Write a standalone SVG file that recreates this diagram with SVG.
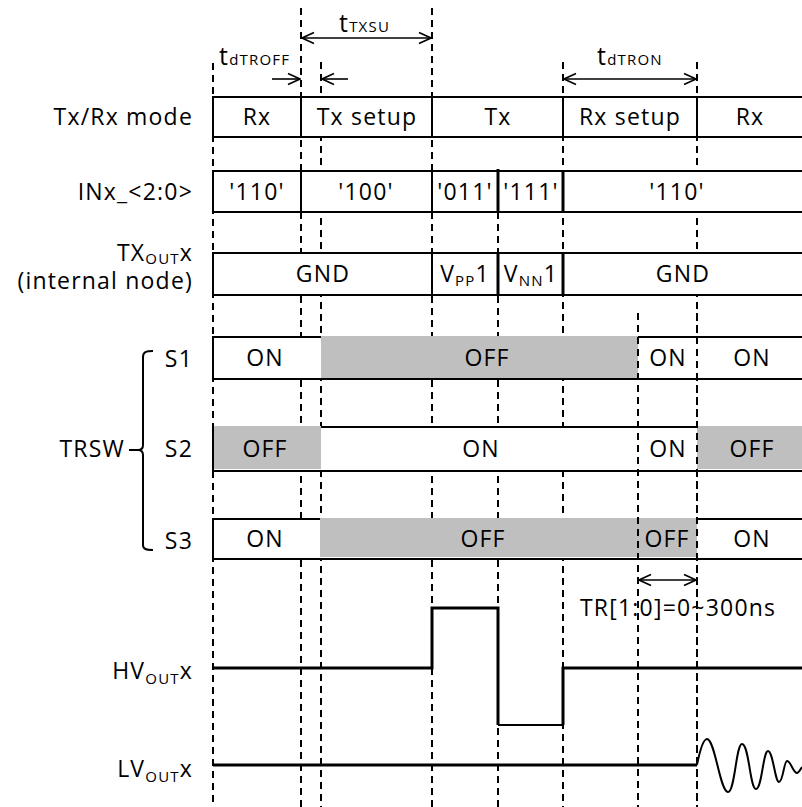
<svg xmlns="http://www.w3.org/2000/svg" width="802" height="807" viewBox="0 0 802 807">
<defs>
<style>
text{font-family:"Open Sans","Liberation Sans",sans-serif;font-size:23px;fill:#000;letter-spacing:1.2px}
.m{text-anchor:middle}
.e{text-anchor:end}
.sub{font-size:15px}
.dash{stroke:#000;stroke-width:2;stroke-dasharray:7,5;fill:none}
.box{fill:#fff;stroke:#000;stroke-width:2}
.ln{stroke:#000;stroke-width:2;fill:none}
.tk{stroke:#000;stroke-width:3;fill:none}
.gray{fill:#bfbfbf}
.arr{stroke:#000;stroke-width:1.6;fill:none;marker-end:url(#ah);marker-start:url(#ah)}
.arr1{stroke:#000;stroke-width:1.6;fill:none;marker-end:url(#ah)}
</style>
<marker id="ah" viewBox="0 0 14 14" refX="13" refY="7" markerWidth="14" markerHeight="14" markerUnits="userSpaceOnUse" orient="auto-start-reverse">
<path d="M1,1.5 L13,7 L1,12.5" fill="none" stroke="#000" stroke-width="1.6"/>
</marker>
</defs>
<rect width="802" height="807" fill="#fff"/>

<g id="connectors">
<line class="dash" x1="213" y1="63" x2="213" y2="807"/>
<line class="dash" x1="301" y1="8" x2="301" y2="807"/>
<line class="dash" x1="321" y1="62" x2="321" y2="807"/>
<line class="dash" x1="432" y1="8" x2="432" y2="807"/>
<line class="dash" x1="498" y1="212" x2="498" y2="807"/>
<line class="dash" x1="563" y1="62" x2="563" y2="807"/>
<line class="dash" x1="697" y1="62" x2="697" y2="807"/>
<line class="arr" x1="302" y1="38" x2="431" y2="38"/>
<line class="arr1" x1="272" y1="79" x2="300" y2="79"/>
<line class="arr1" x1="348" y1="79" x2="322" y2="79"/>
<line class="arr" x1="564" y1="79" x2="696" y2="79"/>
</g>

<g id="timing-labels">
<text x="339" y="32" style="font-size:25px">t<tspan style="font-size:15px">TXSU</tspan></text>
<text x="219" y="65" style="font-size:25px">t<tspan style="font-size:15px">dTROFF</tspan></text>
<text x="597" y="65" style="font-size:25px">t<tspan style="font-size:15px">dTRON</tspan></text>
</g>

<g id="row-mode">
<text class="e" x="193" y="125">Tx/Rx mode</text>
<rect class="box" x="213" y="97" width="600" height="40"/>
<line class="ln" x1="301" y1="97" x2="301" y2="137"/>
<line class="ln" x1="432" y1="97" x2="432" y2="137"/>
<line class="ln" x1="563" y1="97" x2="563" y2="137"/>
<line class="ln" x1="697" y1="97" x2="697" y2="137"/>
<text class="m" x="257" y="125">Rx</text>
<text class="m" x="367" y="125">Tx setup</text>
<text class="m" x="498" y="125">Tx</text>
<text class="m" x="630" y="125">Rx setup</text>
<text class="m" x="750" y="125">Rx</text>
</g>

<g id="row-inx">
<text class="e" x="193" y="200">INx_&lt;2:0&gt;</text>
<rect class="box" x="213" y="171" width="600" height="41"/>
<line class="ln" x1="301" y1="171" x2="301" y2="212"/>
<line class="ln" x1="432" y1="171" x2="432" y2="212"/>
<line class="tk" x1="498" y1="169" x2="498" y2="213"/>
<line class="tk" x1="563" y1="171" x2="563" y2="212"/>
<text class="m" x="257" y="200">'110'</text>
<text class="m" x="366" y="200">'100'</text>
<text class="m" x="465" y="200">'011'</text>
<text class="m" x="531" y="200">'111'</text>
<text class="m" x="677" y="200">'110'</text>
</g>

<g id="row-txout">
<text class="e" x="193" y="261">TX<tspan class="sub" dy="3">OUT</tspan><tspan dy="-3">x</tspan></text>
<text class="e" x="193" y="289">(internal node)</text>
<rect class="box" x="213" y="253" width="600" height="42"/>
<line class="ln" x1="432" y1="253" x2="432" y2="295"/>
<line class="tk" x1="498" y1="253" x2="498" y2="295"/>
<line class="tk" x1="563" y1="253" x2="563" y2="295"/>
<text class="m" x="323" y="282">GND</text>
<text class="m" x="465" y="282">V<tspan class="sub" dy="4">PP</tspan><tspan dy="-4">1</tspan></text>
<text class="m" x="531" y="282">V<tspan class="sub" dy="4">NN</tspan><tspan dy="-4">1</tspan></text>
<text class="m" x="683" y="282">GND</text>
</g>

<g id="trsw">
<text class="e" x="125" y="457">TRSW</text>
<line class="ln" x1="129" y1="450" x2="139" y2="450"/>
<path class="ln" d="M153,351 C146,351 143,352 143,357 V445 C143,448 141,450 138,450 C141,450 143,452 143,455 V545 C143,549 146,550 153,550"/>
</g>

<g id="row-s1">
<text class="e" x="193" y="367">S1</text>
<rect class="box" x="213" y="337" width="600" height="42"/>
<rect class="gray" x="321" y="336" width="317" height="42"/>
<text class="m" x="265" y="366">ON</text>
<text class="m" x="487" y="366">OFF</text>
<text class="m" x="668" y="366">ON</text>
<text class="m" x="752" y="366">ON</text>
</g>

<g id="row-s2">
<text class="e" x="193" y="457">S2</text>
<rect class="box" x="213" y="427" width="600" height="44"/>
<rect class="gray" x="214" y="426" width="107" height="43"/>
<rect class="gray" x="697" y="426" width="110" height="43"/>
<text class="m" x="265" y="457">OFF</text>
<text class="m" x="481" y="457">ON</text>
<text class="m" x="668" y="457">ON</text>
<text class="m" x="752" y="457">OFF</text>
</g>

<g id="row-s3">
<text class="e" x="193" y="549">S3</text>
<rect class="box" x="213" y="519" width="600" height="40"/>
<rect class="gray" x="320" y="518" width="377" height="39"/>
<text class="m" x="265" y="547">ON</text>
<text class="m" x="483" y="547">OFF</text>
<text class="m" x="667" y="547">OFF</text>
<text class="m" x="752" y="547">ON</text>
</g>

<g id="tr-overlay">
<line class="dash" x1="638" y1="313" x2="638" y2="807"/>
<line class="dash" x1="697" y1="313" x2="697" y2="807"/>
<line class="arr" x1="639" y1="580" x2="696" y2="580"/>
<text x="580" y="616">TR[1:0]=0~300ns</text>
</g>

<g id="hvout">
<text class="e" x="193" y="679">HV<tspan class="sub" dy="5">OUT</tspan><tspan dy="-5">x</tspan></text>
<path class="tk" d="M213,668 H432 V608 H498 V725"/>
<path class="ln" d="M498,725 H563"/>
<path class="tk" d="M563,725 V668 H802"/>
</g>

<g id="lvout">
<text class="e" x="193" y="777">LV<tspan class="sub" dy="5">OUT</tspan><tspan dy="-5">x</tspan></text>
<path class="tk" d="M213,765 H697"/>
<path class="ln" d="M697,765 C700,750 703,739 707,739 C715,739 720,792 728,792 C735,792 736,744 742,744 C749,744 750,789 756,789 C762,789 763,751 768,751 C773,751 775,782 779,782 C783,782 784,761 787,761 C791,761 793,773 797,773 C799,773 800,770 802,767"/>
</g>
</svg>
